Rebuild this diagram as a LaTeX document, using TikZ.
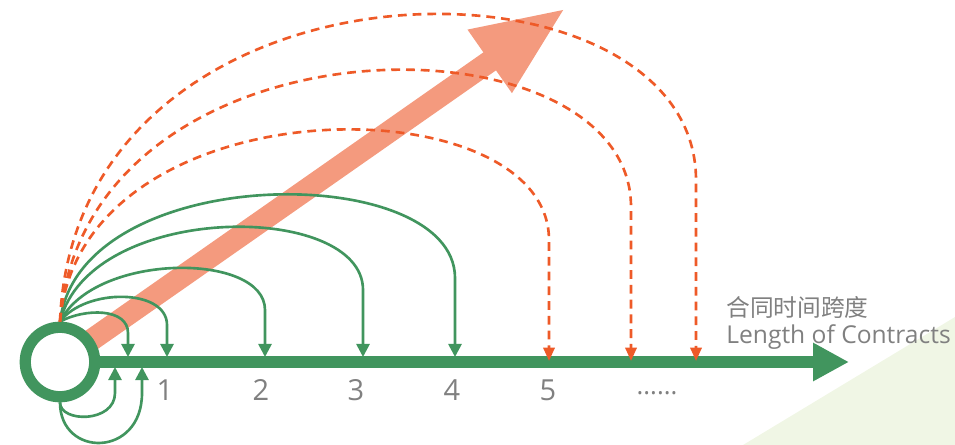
\documentclass[tikz,border=0pt]{standalone}
\usepackage{fontspec}
\setmainfont{Open Sans}
\newfontfamily\cjkfont{Noto Sans CJK SC}
\usetikzlibrary{arrows.meta}
\definecolor{axisgreen}{RGB}{65,149,94}
\definecolor{spanorange}{RGB}{238,90,40}
\definecolor{growthpink}{RGB}{244,154,126}
\definecolor{labelgrey}{RGB}{128,128,128}
\definecolor{cornertint}{RGB}{240,246,229}
\tikzset{
  termarc/.style={draw=axisgreen, line width=1.5pt, -{Triangle[width=7.4pt,length=7.4pt]}},
  spanarc/.style={draw=spanorange, line width=1.5pt, dash pattern=on 5pt off 3.4pt, -{Triangle[width=6.4pt,length=7.6pt]}},
  yearlabel/.style={text=labelgrey, font=\fontsize{16.5}{18}\selectfont, inner sep=0pt},
}
\begin{document}
\begin{tikzpicture}[x=0.02cm, y=-0.02cm]
\useasboundingbox (0,0) rectangle (955,445);
\fill[cornertint] (743,445) -- (955,317) -- (955,445) -- cycle;

\coordinate (o) at (60,362);
\coordinate (tip) at (566,8);
\draw[growthpink, line width=12.5pt, -{Triangle[width=40pt,length=53pt]}] (o) -- (tip);

\node[circle, draw=axisgreen, line width=6.4pt, fill=white, minimum size=1.39cm, inner sep=0pt] (ring) at (o) {};
\coordinate (axisend) at (849,362);
\draw[axisgreen, line width=6.8pt, -{Triangle[width=20.4pt,length=20.4pt]}] (ring.east) -- (axisend);

\node[yearlabel] (y1) at (165,390) {1};
\node[yearlabel] (y2) at (261,390) {2};
\node[yearlabel] (y3) at (356,390) {3};
\node[yearlabel] (y4) at (452,390) {4};
\node[yearlabel] (y5) at (548,390) {5};
\node[yearlabel, anchor=base, font=\fontsize{14.5}{16}\selectfont] (more) at (657,394) {......};

\node[anchor=west, inner sep=0pt, text=labelgrey, font=\cjkfont\fontsize{13.5}{15}\selectfont] (titlezh) at (726,307) {合同时间跨度};
\node[anchor=base west, inner sep=0pt, text=labelgrey, font=\fontsize{14}{16}\selectfont] (titleen) at (726,343) {Length of Contracts};

\coordinate (g1) at (128,357);
\coordinate (g2) at (167,357);
\coordinate (g3) at (265,357);
\coordinate (g4) at (363,357);
\coordinate (g5) at (455,357);
\coordinate (b1) at (115,367);
\coordinate (b2) at (142,367);
\coordinate (d1) at (549,361);
\coordinate (d2) at (631,361);
\coordinate (d3) at (696,361);

\draw[termarc] (ring.north) .. controls (85,308) and (128,308) .. (128,333) -- (g1);
\draw[termarc] (ring.north) .. controls (85,288) and (167,288) .. (167,325) -- (g2);
\draw[termarc] (ring.north) .. controls (95,252) and (265,252) .. (265,310) -- (g3);
\draw[termarc] (ring.north) .. controls (90,201) and (363,201) .. (363,290) -- (g4);
\draw[termarc] (ring.north) .. controls (80,160) and (455,160) .. (455,278) -- (g5);
\draw[termarc] (ring.south) .. controls (60,423) and (115,423) .. (115,393) -- (b1);
\draw[termarc] (ring.south) .. controls (60,458) and (142,458) .. (142,393) -- (b2);

\draw[spanarc] (ring.north) .. controls (80,81) and (549,81) .. (549,240) -- (d1);
\draw[spanarc] (ring.north) .. controls (85,8) and (631,8) .. (631,207) -- (d2);
\draw[spanarc] (ring.north) .. controls (75,-61) and (696,-61) .. (696,180) -- (d3);
\end{tikzpicture}
\end{document}
